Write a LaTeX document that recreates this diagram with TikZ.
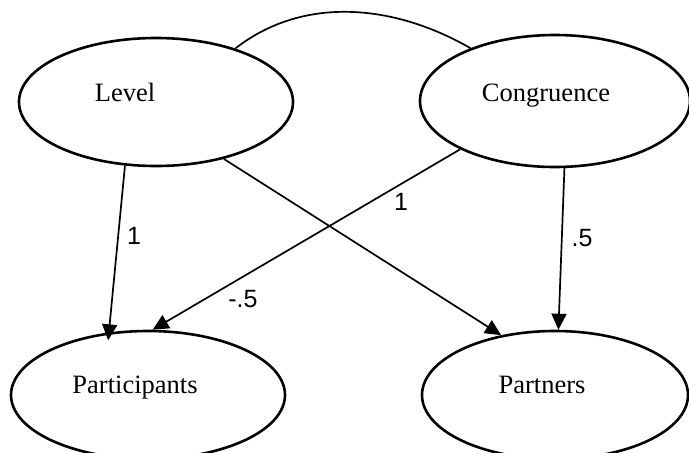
\documentclass[tikz,border=0pt]{standalone}
\usepackage{fontspec}
\setmainfont{Liberation Serif}
\newfontfamily\labelfont{Liberation Sans}
\usetikzlibrary{shapes.geometric,arrows.meta}

\tikzset{
  latent/.style={ellipse, draw, line width=2.6pt, inner sep=0pt},
  vartext/.style={anchor=base, inner sep=0pt, font=\fontsize{26.5}{30}\selectfont},
  path/.style={line width=1.7pt, -{Triangle[length=16pt,width=15pt]}},
  coef/.style={inner sep=0pt, font=\labelfont\fontsize{25}{29}\selectfont},
  covar/.style={line width=1.7pt}
}

\begin{document}
\begin{tikzpicture}[x=1pt, y=-1pt]
  \useasboundingbox (0,0) rectangle (689,453);
  \clip (0,0) rectangle (689,453);

  % latent variables
  \node[latent, minimum width=274pt, minimum height=128pt] (lev) at (156,102) {};
  \node[latent, minimum width=270pt, minimum height=132pt] (con) at (555,101) {};
  \node[latent, minimum width=274pt, minimum height=128pt] (par) at (148,395) {};
  \node[latent, minimum width=266pt, minimum height=128pt] (prt) at (555,395) {};

  \node[vartext] (levt) at (125,101) {Level};
  \node[vartext] (cont) at (546,101) {Congruence};
  \node[vartext] (part) at (135,393) {Participants};
  \node[vartext] (prtt) at (542,393) {Partners};

  % covariance between the predictors
  \draw[covar] (lev.34) to[out=38, in=150, looseness=0.95] (con.148);

  % directed paths
  \draw[path, shorten >=-8pt] (lev.244) -- (par.122.5);
  \draw[path] (con.207) -- (par.86.5);
  \draw[path] (lev.320) -- (prt.132.5);
  \draw[path] (con.278) -- (prt.87);

  % path coefficients
  \node[coef] (c1) at (134,236) {1};
  \node[coef] (c2) at (243,299) {-.5};
  \node[coef] (c3) at (401,202) {1};
  \node[coef] (c4) at (582,238) {.5};
\end{tikzpicture}
\end{document}
